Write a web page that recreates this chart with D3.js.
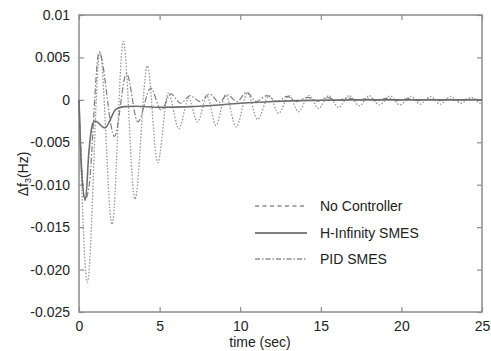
<!DOCTYPE html>
<html>
<head>
<meta charset="utf-8">
<script src="https://d3js.org/d3.v7.min.js"></script>
<style>
  body { margin: 0; background: #fff; }
  svg { font-family: Arial, "Liberation Sans", sans-serif; }
</style>
</head>
<body>
<div id="chart"></div>
<script>
// time (sec), delta f3 (Hz) at peaks / troughs
const noController = [
  [0, 0], [0.52, -0.0215], [1.3, 0.0057], [2.05, -0.0147], [2.75, 0.0069],
  [3.47, -0.0117], [4.24, 0.0040], [4.88, -0.0074], [5.54, 0.0008], [6.2, -0.0034],
  [6.8, 0.0002], [7.35, -0.0026], [7.95, 0.0004], [8.5, -0.0030], [9.1, 0.0006],
  [9.75, -0.0032], [10.45, 0.0008], [11.08, -0.0023], [11.8, 0.0005], [12.38, -0.0016],
  [13.03, 0.0005], [13.62, -0.0014], [14.27, 0.0005], [14.86, -0.0010], [15.5, 0.0005],
  [16.1, -0.0009], [16.76, 0.0005], [17.39, -0.0007], [18.0, 0.0005], [18.63, -0.0006],
  [19.3, 0.00045], [19.9, -0.0006], [20.6, 0.0004], [21.15, -0.0005], [21.8, 0.0004],
  [22.4, -0.0005], [23.06, 0.0004], [23.7, -0.0004], [24.36, 0.0003], [24.9, -0.0004], [25, -0.0003]
];
const hInfinity = [
  [0, 0], [0.15, -0.008], [0.4, -0.0118], [0.62, -0.006], [0.85, -0.0028], [1.0, -0.0025],
  [1.6, -0.0033], [2.3, -0.0011], [2.8, -0.0008], [3.5, -0.00075], [5, -0.00087],
  [7, -0.0008], [8, -0.0007], [10, -0.0004], [11.5, -0.00025], [13, -0.00012],
  [15, -0.00005], [17, 0], [25, 0]
];
const pidSmes = [
  [0, 0], [0.35, -0.0118], [0.6, -0.0105], [1.25, 0.0056], [2.2, -0.0043], [2.95, 0.0031],
  [3.65, -0.0026], [4.45, 0.0014], [5.1, -0.0012], [5.7, 0.0007], [6.3, -0.0004],
  [6.9, 0.0005], [7.5, -0.0002], [8.1, 0.0007], [8.7, -0.0003], [9.2, 0.0006],
  [9.8, -0.0002], [10.4, 0.0009], [11.0, -0.0002], [11.65, 0.0005], [12.3, -0.0002],
  [12.9, 0.0004], [13.5, -0.0002], [14.15, 0.0003], [14.8, -0.00015], [15.4, 0.0003],
  [16.0, -0.0001], [16.65, 0.00025], [17.3, -0.0001], [17.9, 0.0002], [18.5, -0.0001],
  [19.15, 0.0002], [19.8, -0.0001], [20.4, 0.00015], [21.0, -0.0001], [21.65, 0.0001],
  [22.3, -0.0001], [22.9, 0.0001], [23.5, -0.0001], [24.15, 0.0001], [25, 0]
];

const xTicks = [0, 5, 10, 15, 20, 25];
const yTicks = [0.01, 0.005, 0, -0.005, -0.010, -0.015, -0.020, -0.025];
const yTickLabels = ["0.01", "0.005", "0", "-0.005", "-0.010", "-0.015", "-0.020", "-0.025"];
const legendNames = ["No Controller", "H-Infinity SMES", "PID SMES"];

const width = 491, height = 351;
const margin = { top: 15, right: 9, bottom: 39, left: 79 };

const svg = d3.select("#chart").append("svg")
    .attr("width", width)
    .attr("height", height);

svg.append("rect").attr("width", width).attr("height", height).attr("fill", "#fff");

const x = d3.scaleLinear().domain([0, 25]).range([margin.left, width - margin.right]);
const y = d3.scaleLinear().domain([-0.025, 0.01]).range([height - margin.bottom, margin.top]);

const axisColor = "#8c8c8c";
const textColor = "#222";

// mirrored inner ticks on all four sides
function styleAxis(g) {
  g.select(".domain").remove();
  g.selectAll(".tick line").attr("stroke", axisColor).attr("stroke-width", 1.2);
  g.selectAll(".tick text").attr("fill", textColor).style("font-size", "14px");
}

svg.append("g")
    .attr("transform", `translate(0,${height - margin.bottom})`)
    .call(d3.axisBottom(x).tickValues(xTicks).tickSize(-5).tickPadding(9).tickFormat(d3.format("d")))
    .call(styleAxis);

svg.append("g")
    .attr("transform", `translate(0,${margin.top})`)
    .call(d3.axisTop(x).tickValues(xTicks).tickSize(-5).tickFormat(""))
    .call(styleAxis);

svg.append("g")
    .attr("transform", `translate(${margin.left},0)`)
    .call(d3.axisLeft(y).tickValues(yTicks).tickSize(-5).tickPadding(9)
      .tickFormat((d, i) => yTickLabels[i]))
    .call(styleAxis);

svg.append("g")
    .attr("transform", `translate(${width - margin.right},0)`)
    .call(d3.axisRight(y).tickValues(yTicks).tickSize(-5).tickFormat(""))
    .call(styleAxis);

svg.append("rect")
    .attr("x", margin.left)
    .attr("y", margin.top)
    .attr("width", width - margin.left - margin.right)
    .attr("height", height - margin.top - margin.bottom)
    .attr("fill", "none")
    .attr("stroke", axisColor)
    .attr("stroke-width", 1.5);

const line = d3.line()
    .x(d => x(d[0]))
    .y(d => y(d[1]))
    .curve(d3.curveMonotoneX);

const styles = [
  { stroke: "#9a9a9a", width: 1.3, dash: "1.6,1.6" },
  { stroke: "#6e6e6e", width: 1.6, dash: null },
  { stroke: "#7e7e7e", width: 1.2, dash: "6,2,1.5,2" }
];

const plot = svg.append("g");
[[noController, 0], [pidSmes, 2], [hInfinity, 1]].forEach(([data, i]) => {
  plot.append("path")
      .datum(data)
      .attr("d", line)
      .attr("fill", "none")
      .attr("stroke", styles[i].stroke)
      .attr("stroke-width", styles[i].width)
      .attr("stroke-dasharray", styles[i].dash);
});

// legend
const legendY = [206, 233, 259];
const legend = svg.append("g");
legendNames.forEach((name, i) => {
  legend.append("line")
      .attr("x1", 255).attr("x2", 307)
      .attr("y1", legendY[i]).attr("y2", legendY[i])
      .attr("stroke", "#555")
      .attr("stroke-width", i === 1 ? 1.4 : 1.1)
      .attr("stroke-dasharray", i === 0 ? "4,3.5" : i === 2 ? "5,2,1.5,2" : null);
  legend.append("text")
      .attr("x", 320)
      .attr("y", legendY[i] + 5)
      .attr("fill", textColor)
      .style("font-size", "14px")
      .text(name);
});

// axis titles
svg.append("text")
    .attr("x", 260)
    .attr("y", 347)
    .attr("text-anchor", "middle")
    .attr("fill", textColor)
    .style("font-size", "14px")
    .text("time (sec)");

const yTitle = svg.append("text")
    .attr("transform", "translate(28,174) rotate(-90)")
    .attr("text-anchor", "middle")
    .attr("fill", textColor)
    .style("font-size", "14px");
yTitle.append("tspan").text("Δf");
yTitle.append("tspan").attr("dy", 3).style("font-size", "9px").text("3");
yTitle.append("tspan").attr("dy", -3).text("(Hz)");
</script>
</body>
</html>
